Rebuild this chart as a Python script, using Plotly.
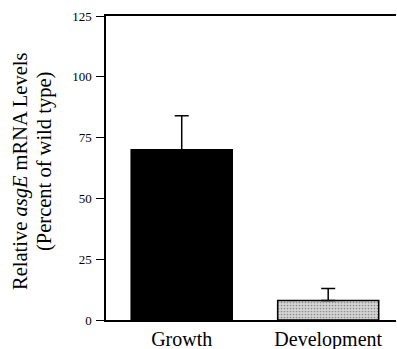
import plotly.graph_objects as go

categories = ["Growth", "Development"]
values = [70, 8]
errors_up = [14, 5]
colors = ["#000000", "#d4d4d4"]
y_ticks = [0, 25, 50, 75, 100, 125]
y_title_lines = ["Relative <i>asgE</i> mRNA Levels", "(Percent of wild type)"]

fig = go.Figure()
fig.add_trace(go.Bar(
    x=categories, y=values,
    width=0.69,
    marker=dict(
        color=colors,
        line=dict(color="black", width=1.5),
        pattern=dict(shape=["", "."], fgcolor="#8a8a8a", size=3, solidity=0.25),
    ),
    error_y=dict(type="data", symmetric=False, array=errors_up,
                 arrayminus=[0, 0], color="black", thickness=1.5, width=7),
))

serif = "Liberation Serif, Times New Roman, serif"
fig.update_layout(
    width=397, height=349,
    margin=dict(l=106, r=1, t=16, b=29, autoexpand=False),
    plot_bgcolor="white", paper_bgcolor="white",
    showlegend=False,
    font=dict(family=serif, color="black"),
)
fig.update_xaxes(
    range=[-0.517, 1.463], automargin=False,
    showline=True, linecolor="black", linewidth=1.5, mirror=True,
    ticks="", tickfont=dict(size=20, family=serif, color="black"),
    ticklabelstandoff=0,
    showgrid=False, zeroline=False,
)
fig.update_yaxes(
    range=[0, 125], automargin=False,
    tickvals=y_ticks, ticktext=[str(v) for v in y_ticks],
    showline=True, linecolor="black", linewidth=1.5,
    ticks="outside", ticklen=8, tickwidth=1.2, tickcolor="black",
    tickfont=dict(size=13, family=serif, color="black"),
    ticklabelstandoff=2,
    showgrid=False, zeroline=False,
)
# two-line rotated y-axis title, placed line by line
plot_h = 349 - 16 - 29
for text, xc, yc in [(y_title_lines[0], 21, 172), (y_title_lines[1], 44, 162)]:
    fig.add_annotation(
        text=text, textangle=-90, showarrow=False,
        xref="paper", yref="paper", x=0, y=(349 - 29 - yc) / plot_h,
        xanchor="center", yanchor="middle", xshift=xc - 106,
        font=dict(size=20.5, family=serif, color="black"),
    )
fig.write_html("out.html", config={"displayModeBar": False},
               post_script="document.body.style.margin='0';document.body.style.overflow='hidden';")
